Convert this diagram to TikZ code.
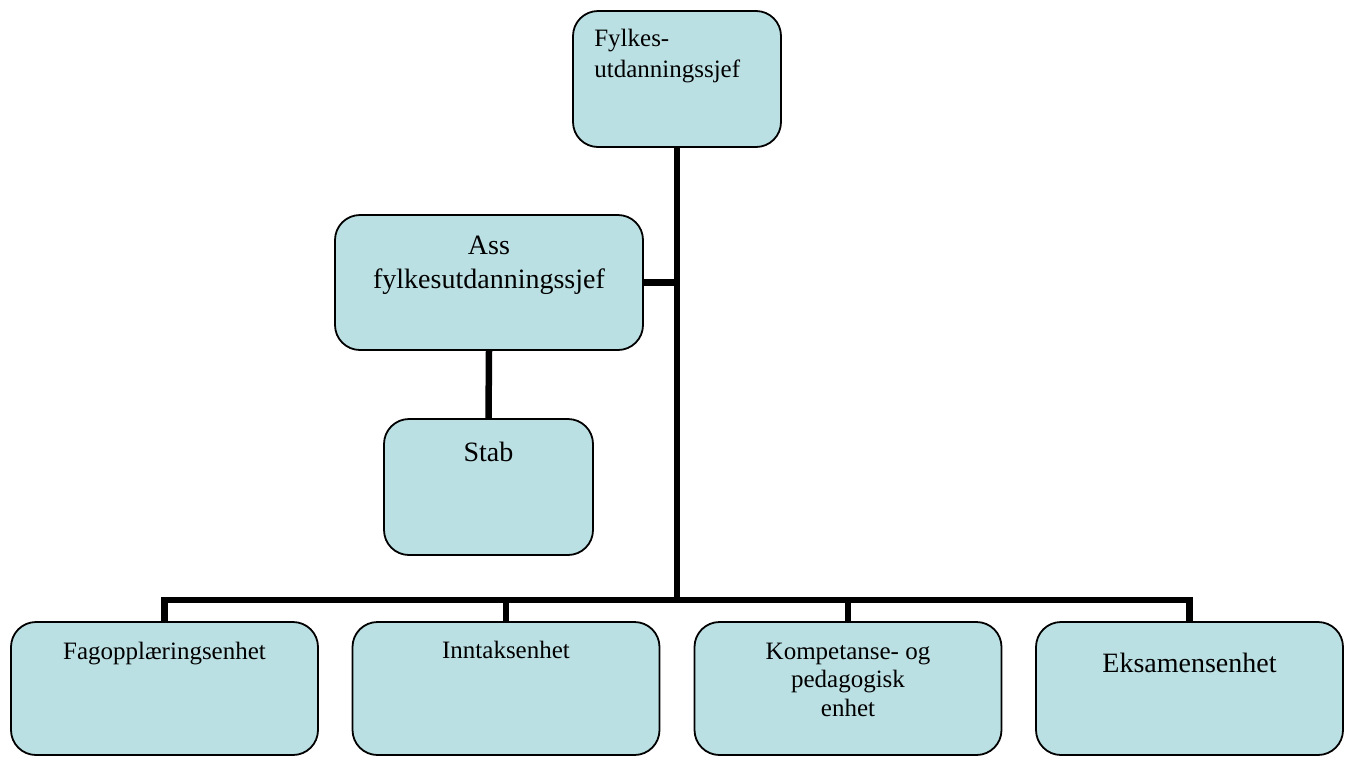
\documentclass[tikz,border=0pt]{standalone}
\usepackage{fontspec}
\setmainfont{Liberation Serif}
\usetikzlibrary{positioning}
\definecolor{boxfill}{HTML}{BBE0E3}

\tikzset{
  unit/.style={draw=black, line width=1.8pt, fill=boxfill, rounded corners=25pt,
    minimum width=307pt, minimum height=133pt, inner sep=0pt},
  link/.style={line width=6.5pt},
  lbl/.style={font=\fontsize{25}{28.5}\selectfont, align=center, inner sep=0pt},
  biglbl/.style={font=\fontsize{28}{34}\selectfont, align=center, inner sep=0pt}
}

\begin{document}
\begin{tikzpicture}[x=1pt, y=-1pt]
\useasboundingbox (0,0) rectangle (1348,756);

% boxes
\node[unit, minimum width=208pt, minimum height=136pt] (top) at (677,79) {};
\node[unit, minimum width=308pt, minimum height=135pt] (ass) at (489,282.5) {};
\node[unit, minimum width=209pt, minimum height=136pt] (stab) at (488.5,487) {};
\node[unit] (fag) at (164.5,688.5) {};
\node[unit] (inntak) at (506,688.5) {};
\node[unit] (komp) at (848,688.5) {};
\node[unit] (eks) at (1189.5,688.5) {};
\coordinate (bus) at (677,600);

% connectors
\draw[link] (top.south) -- (bus);
\draw[link] (ass.east) -- (ass.east -| top.south);
\draw[link] (ass.south) -- (stab.north);
\draw[link] (fag.north) |- (bus) -| (eks.north);
\draw[link] (inntak.north) -- (inntak.north |- bus);
\draw[link] (komp.north) -- (komp.north |- bus);

% texts (multi-line ones sit on their last line)
\node[lbl, font=\fontsize{25}{31}\selectfont, align=left, anchor=base west] (top-t)
  at ([xshift=22pt, yshift=-67pt]top.north west) {Fylkes-\\utdanningssjef};
\node[biglbl, anchor=base] (ass-t) at ([yshift=-74pt]ass.north) {Ass\\fylkesutdanningssjef};
\node[biglbl, anchor=base] (stab-t) at ([yshift=-43pt]stab.north) {Stab};
\node[lbl, anchor=base] (fag-t) at ([yshift=-38pt]fag.north) {Fagopplæringsenhet};
\node[lbl, anchor=base] (inntak-t) at ([yshift=-37pt]inntak.north) {Inntaksenhet};
\node[lbl, anchor=base] (komp-t) at ([yshift=-95pt]komp.north) {Kompetanse- og\\pedagogisk\\enhet};
\node[biglbl, anchor=base] (eks-t) at ([yshift=-51pt]eks.north) {Eksamensenhet};
\end{tikzpicture}
\end{document}
